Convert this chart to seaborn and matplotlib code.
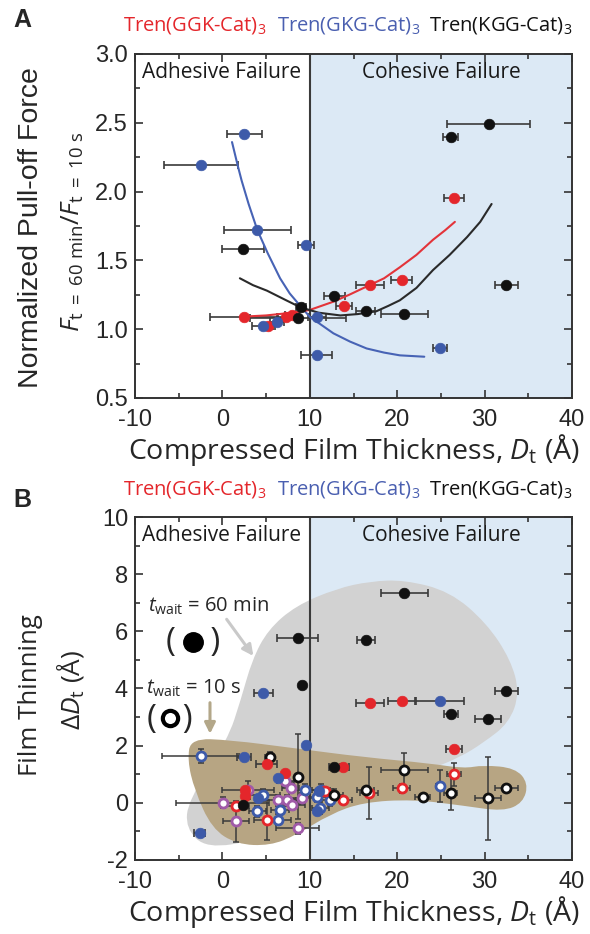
import numpy as np
import pandas as pd
import matplotlib
matplotlib.use("Agg")
import matplotlib.pyplot as plt
from matplotlib.path import Path
from matplotlib.patches import PathPatch
import seaborn as sns

# ---- colours ----
RED = "#e4262b"
BLUE = "#3d5aa9"
BLACK = "#111111"
PURPLE = "#a05aa8"
BAR = "#3a3a3a"
SKY = "#dce9f5"
GREY_BLOB = "#d2d2d2"
TAN_BLOB = "#b7a583"

# ---- panel A data: normalized pull-off force ----
a_red_x = [2.5, 5.2, 7.3, 8.0, 13.9, 16.9, 20.5, 26.5]
a_red_y = [1.09, 1.02, 1.09, 1.10, 1.17, 1.32, 1.36, 1.95]
a_red_xerr = [3.9, 0.8, 1.0, 0.8, 0.9, 1.6, 1.2, 1.15]

a_blue_x = [-2.45, 2.5, 4.0, 4.6, 6.3, 9.6, 10.8, 10.8, 24.9]
a_blue_y = [2.19, 2.42, 1.72, 1.02, 1.05, 1.61, 1.09, 0.81, 0.86]
a_blue_xerr = [4.2, 2.0, 3.8, 1.2, 0.8, 0.9, 1.0, 1.75, 0.8]

a_black_x = [2.4, 8.65, 9.0, 12.8, 16.4, 20.8, 26.1, 30.5, 32.5]
a_black_y = [1.58, 1.08, 1.16, 1.24, 1.13, 1.11, 2.40, 2.49, 1.32]
a_black_xerr = [2.4, 5.5, 0.6, 1.2, 1.1, 2.7, 0.9, 4.75, 1.3]

# fitted trend lines
fit_blue_x = [1.1, 1.75, 2.2, 3.0, 4.0, 5.2, 6.6, 7.7, 8.9, 10.0, 12.7, 14.6, 16.5, 18.5, 20.3, 23.1]
fit_blue_y = [2.36, 2.19, 2.08, 1.91, 1.72, 1.55, 1.37, 1.26, 1.17, 1.09, 0.97, 0.91, 0.86, 0.83, 0.81, 0.80]
fit_red_x = [2.0, 5.0, 8.0, 10.0, 12.7, 14.5, 16.5, 18.5, 20.3, 22.2, 24.1, 25.5, 26.6]
fit_red_y = [1.09, 1.10, 1.12, 1.14, 1.20, 1.25, 1.31, 1.37, 1.45, 1.54, 1.65, 1.72, 1.78]
fit_black_x = [2.0, 3.5, 5.1, 7.3, 8.9, 11.0, 13.5, 15.5, 17.6, 19.0, 20.3, 22.2, 24.1, 26.0, 28.0, 29.5, 30.8]
fit_black_y = [1.37, 1.32, 1.28, 1.21, 1.16, 1.12, 1.10, 1.11, 1.13, 1.17, 1.21, 1.30, 1.43, 1.54, 1.67, 1.78, 1.91]

# ---- panel B data: film thinning ----
# t_wait = 60 min (filled)
b60_black_x = [20.8, 8.6, 16.4, 9.15, 32.5, 26.1, 30.4, 12.8, 2.4]
b60_black_y = [7.33, 5.78, 5.70, 4.11, 3.92, 3.11, 2.95, 1.27, -0.07]
b60_black_xerr = [2.7, 2.35, 1.05, 0.3, 1.33, 0.8, 1.5, 0.6, 0.0]
b60_red_x = [16.9, 20.5, 26.5, 13.8, 5.1, 7.2, 2.6, 2.6]
b60_red_y = [3.51, 3.58, 1.89, 1.27, 1.35, 1.06, 0.24, 0.45]
b60_red_xerr = [1.56, 1.5, 0.9, 0.7, 1.2, 0.0, 0.0, 0.0]
b60_blue_x = [24.9, 4.7, 9.6, 2.5, -2.6, 6.4, 4.1, 11.0, 10.8]
b60_blue_y = [3.58, 3.86, 2.02, 1.62, -1.04, 0.86, 0.16, 0.40, -0.27]
b60_blue_xerr = [2.7, 1.05, 0.3, 0.8, 0.6, 0.0, 0.0, 0.0, 0.0]

# t_wait = 10 s (open)
b10_black_x = [5.4, 8.6, 20.8, 16.4, 22.9, 26.1, 30.4, 32.5, 12.8]
b10_black_y = [1.62, 0.92, 1.15, 0.45, 0.20, 0.35, 0.16, 0.51, 0.28]
b10_black_xerr = [0.5, 0.0, 2.7, 1.0, 0.9, 0.7, 1.5, 1.3, 1.0]
b10_black_yerr = [0.15, 1.5, 0.6, 0.1, 0.1, 0.6, 1.45, 0.1, 0.2]
b10_red_x = [16.8, 20.5, 26.5, 13.8, 1.56, 5.1, 11.7]
b10_red_y = [0.35, 0.51, 1.0, 0.1, -0.12, -0.59, 0.42]
b10_red_xerr = [1.0, 1.0, 0.8, 1.0, 1.5, 1.5, 1.0]
b10_red_yerr = [0.9, 0.15, 0.4, 0.1, 0.1, 0.7, 0.1]
b10_blue_x = [-2.5, 24.9, 4.6, 4.0, 6.6, 6.4, 9.5, 10.8, 11.3, 11.2, 12.3]
b10_blue_y = [1.65, 0.59, 0.28, -0.3, -0.24, -0.59, 0.45, 0.22, 0.45, -0.18, 0.09]
b10_blue_xerr = [4.4, 0.5, 2.0, 1.0, 1.0, 1.5, 1.5, 1.5, 1.0, 1.0, 1.0]
b10_blue_yerr = [0.25, 0.55, 0.2, 0.2, 0.2, 0.2, 0.2, 0.2, 0.2, 0.2, 0.2]
b10_purple_x = [0.03, 1.56, 2.96, 6.4, 7.4, 8.0, 8.6, 7.2, 7.8, 9.1]
b10_purple_y = [0.01, -0.65, 0.45, 0.09, 0.09, -0.06, -0.89, 0.75, 0.53, 0.16]
b10_purple_xerr = [5.3, 1.5, 3.0, 2.0, 1.5, 1.5, 2.5, 1.0, 1.0, 1.5]
b10_purple_yerr = [0.2, 0.72, 0.3, 0.2, 0.2, 0.2, 0.2, 0.2, 0.2, 0.2]

# shaded guide regions (outline vertices)
grey_x = [16.9, 20.8, 26.0, 30.2, 33.0, 34.0, 32.8, 29.85, 27.2, 24.0, 18.0, 10.0, 4.0, -1.8, -4.2, -3.9, 0.6, 2.1, 3.4, 5.2, 8.4, 13.1]
grey_y = [7.75, 7.8, 7.4, 6.3, 5.0, 3.83, 2.8, 2.1, 1.6, 1.2, 0.5, -0.5, -1.3, -1.6, -0.9, 0.1, 2.2, 3.6, 5.0, 6.05, 6.9, 7.5]
tan_x = [-3.6, 0.87, 8.5, 16.1, 23.75, 27.6, 29.85, 33.5, 35.0, 34.4, 32.1, 27.6, 21.8, 16.1, 12.3, 8.5, 5.45, 1.64, -1.2, -3.2, -4.0]
tan_y = [2.25, 2.2, 1.9, 1.6, 1.38, 1.2, 1.32, 1.22, 0.69, 0.0, -0.3, -0.1, 0.12, 0.02, -0.4, -1.12, -1.5, -1.45, -0.9, 0.45, 1.5]

sns.set_style("ticks")
plt.rcParams["font.family"] = ["Open Sans", "DejaVu Sans"]
plt.rcParams["mathtext.fontset"] = "custom"
plt.rcParams["mathtext.rm"] = "Open Sans"
plt.rcParams["mathtext.it"] = "Open Sans:italic"
plt.rcParams["mathtext.bf"] = "Open Sans:bold"
plt.rcParams["axes.unicode_minus"] = False

W, H = 590, 934
fig = plt.figure(figsize=(W / 100, H / 100), dpi=100)


def fx(px):
    return px / W


def fy(py):
    return 1 - py / H


axA = fig.add_axes([fx(135), fy(398), fx(572) - fx(135), fy(54) - fy(398)])
axB = fig.add_axes([fx(135), fy(860), fx(572) - fx(135), fy(517) - fy(860)])


def smooth_blob(xs, ys):
    pts = np.column_stack([xs, ys])
    mids = (pts + np.roll(pts, -1, axis=0)) / 2
    verts = [mids[-1]]
    codes = [Path.MOVETO]
    for i in range(len(pts)):
        verts += [pts[i], mids[i]]
        codes += [Path.CURVE3, Path.CURVE3]
    return Path(verts, codes)


def style_axes(ax):
    ax.set_xlim(-10, 40)
    ax.axvspan(10, 40, color=SKY, zorder=0, lw=0)
    ax.axvline(10, color="#3a3a3a", lw=1.5, zorder=2)
    ax.set_xticks([-10, 0, 10, 20, 30, 40])
    ax.set_xticks(np.arange(-5, 40, 10), minor=True)
    ax.tick_params(which="both", direction="in", top=True, right=True, color="#333333", width=1.2)
    ax.tick_params(which="major", length=6, labelsize=17, pad=5)
    ax.tick_params(axis="x", which="major", pad=8)
    ax.tick_params(which="minor", length=3.5)
    for s in ax.spines.values():
        s.set_color("#333333")
        s.set_linewidth(1.4)
    ax.text(-9.2, 0.945, "Adhesive Failure", transform=ax.get_xaxis_transform(),
            fontsize=15, va="center", ha="left", color="#1a1a1a")
    ax.text(25, 0.945, "Cohesive Failure", transform=ax.get_xaxis_transform(),
            fontsize=15, va="center", ha="center", color="#1a1a1a")


def set_tick_font(ax):
    for lab in ax.get_xticklabels() + ax.get_yticklabels():
        lab.set_family("Liberation Sans")


def closed_points(ax, x, y, xerr, color, yerr=None, size=58):
    ax.errorbar(x, y, xerr=xerr, yerr=yerr, fmt="none", ecolor=BAR, elinewidth=1.2,
                capsize=3, capthick=1.2, zorder=3)
    sns.scatterplot(x=x, y=y, ax=ax, color=color, s=size, edgecolor=color, linewidth=0.5,
                    zorder=4, legend=False)


def open_points(ax, x, y, xerr, yerr, edge):
    ax.errorbar(x, y, xerr=xerr, yerr=yerr, fmt="none", ecolor=BAR, elinewidth=1.1,
                capsize=2.5, capthick=1.1, zorder=3)
    sns.scatterplot(x=x, y=y, ax=ax, color="white", s=42, edgecolor=edge, linewidth=2.0,
                    zorder=4, legend=False)


# ---------------- panel A ----------------
style_axes(axA)
axA.set_ylim(0.5, 3.0)
axA.set_yticks(np.arange(0.5, 3.01, 0.5))
axA.set_yticks(np.arange(0.75, 3.0, 0.5), minor=True)
axA.yaxis.set_major_formatter(matplotlib.ticker.FormatStrFormatter("%.1f"))

closed_points(axA, a_red_x, a_red_y, a_red_xerr, RED)
closed_points(axA, a_blue_x, a_blue_y, a_blue_xerr, BLUE)
closed_points(axA, a_black_x, a_black_y, a_black_xerr, BLACK)

fits = pd.DataFrame({
    "x": fit_blue_x + fit_red_x + fit_black_x,
    "y": fit_blue_y + fit_red_y + fit_black_y,
    "series": ["GKG"] * len(fit_blue_x) + ["GGK"] * len(fit_red_x) + ["KGG"] * len(fit_black_x),
})
sns.lineplot(data=fits, x="x", y="y", hue="series", ax=axA, estimator=None, sort=True,
             palette={"GKG": "#4763b5", "GGK": "#e3343a", "KGG": "#2a2a2a"},
             linewidth=1.5, legend=False, zorder=3.5)
axA.set_xlabel("Compressed Film Thickness, $D_{\\mathrm{t}}$ (Å)", fontsize=20.5, labelpad=1)
axA.set_ylabel("")
set_tick_font(axA)

# ---------------- panel B ----------------
style_axes(axB)
axB.set_ylim(-2, 10)
axB.set_yticks(np.arange(-2, 10.1, 2))
axB.set_yticks(np.arange(-1, 10, 2), minor=True)

axB.add_patch(PathPatch(smooth_blob(grey_x, grey_y), facecolor=GREY_BLOB, edgecolor="none", zorder=1))
axB.add_patch(PathPatch(smooth_blob(tan_x, tan_y), facecolor=TAN_BLOB, edgecolor="none", zorder=1.2))

open_points(axB, b10_purple_x, b10_purple_y, b10_purple_xerr, b10_purple_yerr, PURPLE)
open_points(axB, b10_blue_x, b10_blue_y, b10_blue_xerr, b10_blue_yerr, BLUE)
open_points(axB, b10_red_x, b10_red_y, b10_red_xerr, b10_red_yerr, RED)
open_points(axB, b10_black_x, b10_black_y, b10_black_xerr, b10_black_yerr, BLACK)
closed_points(axB, b60_red_x, b60_red_y, b60_red_xerr, RED)
closed_points(axB, b60_blue_x, b60_blue_y, b60_blue_xerr, BLUE)
closed_points(axB, b60_black_x, b60_black_y, b60_black_xerr, BLACK)
axB.set_xlabel("Compressed Film Thickness, $D_{\\mathrm{t}}$ (Å)", fontsize=20.5, labelpad=1)
axB.set_ylabel("")
set_tick_font(axB)

# key for wait times
axB.text(-8.5, 6.86, "$t_{\\mathrm{wait}}$ = 60 min", fontsize=14.5, va="center", ha="left")
axB.text(-8.7, 4.01, "$t_{\\mathrm{wait}}$ = 10 s", fontsize=14.5, va="center", ha="left")
axB.text(-3.33, 5.60, "(    )", fontsize=24, va="center", ha="center")
axB.plot([-3.33], [5.64], "o", ms=14, color="black", zorder=5)
axB.text(-6.0, 2.93, "(   )", fontsize=24, va="center", ha="center")
axB.plot([-6.0], [2.96], "o", ms=11, mfc="white", mec="black", mew=3, zorder=5)
axB.annotate("", xy=(3.73, 5.06), xytext=(0.3, 6.5),
             arrowprops=dict(arrowstyle="-|>", color="#c9c9c9", lw=2.2, mutation_scale=16), zorder=5)
axB.annotate("", xy=(-1.42, 2.32), xytext=(-1.42, 3.6),
             arrowprops=dict(arrowstyle="-|>", color="#b3a789", lw=2.2, mutation_scale=16), zorder=5)

# ---------------- figure texts ----------------
for py in (25, 490):
    fig.text(fx(123), fy(py), "Tren(GGK-Cat)$_3$", color=RED, fontsize=14.5, va="center", ha="left")
    fig.text(fx(277), fy(py), "Tren(GKG-Cat)$_3$", color="#4a5fb0", fontsize=14.5, va="center", ha="left")
    fig.text(fx(429), fy(py), "Tren(KGG-Cat)$_3$", color=BLACK, fontsize=14.5, va="center", ha="left")

fig.text(fx(22), fy(20), "A", fontsize=18, fontweight="bold", family="Liberation Sans", va="center", ha="center")
fig.text(fx(22), fy(500), "B", fontsize=18, fontweight="bold", family="Liberation Sans", va="center", ha="center")

fig.text(fx(31), fy(228), "Normalized Pull-off Force", rotation=90, fontsize=20.5,
         family="Liberation Sans", va="center", ha="center")
fig.text(fx(73), fy(232), "$F_{\\mathrm{t\\ =\\ 60\\ min}}/F_{\\mathrm{t\\ =\\ 10\\ s}}$", rotation=90,
         fontsize=19, va="center", ha="center")
fig.text(fx(31), fy(695), "Film Thinning", rotation=90, fontsize=18.5, va="center", ha="center")
fig.text(fx(70), fy(690), "$\\Delta D_{\\mathrm{t}}$ (Å)", rotation=90, fontsize=19, va="center", ha="center")

fig.savefig("out.png", dpi=100)
